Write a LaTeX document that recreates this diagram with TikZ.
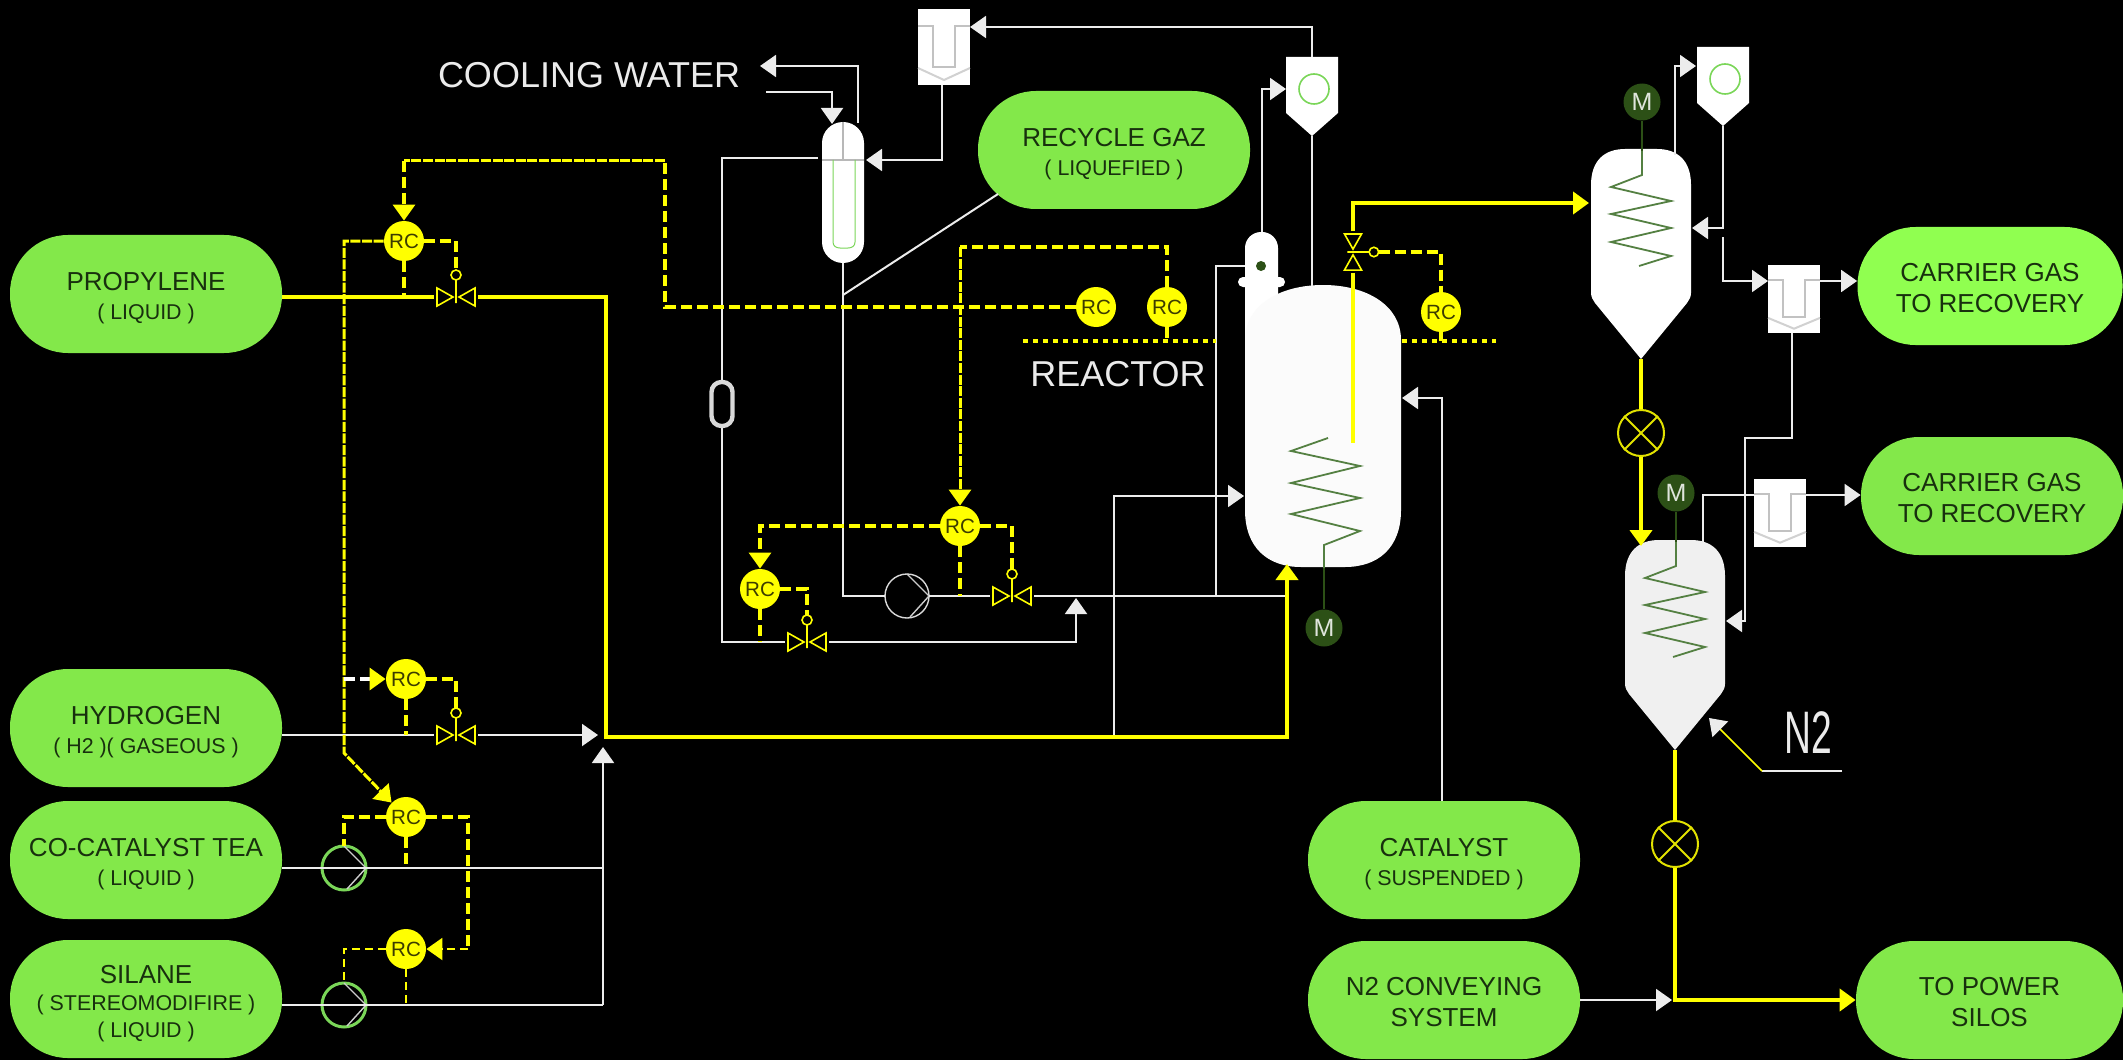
\documentclass[tikz,border=0pt]{standalone}
\usepackage{fontspec}
\setmainfont{Liberation Sans}
\usetikzlibrary{arrows.meta}
\definecolor{PillGreen}{RGB}{131,232,74}
\definecolor{BrightGreen}{RGB}{144,255,80}
\definecolor{PillText}{RGB}{24,48,14}
\definecolor{RingGreen}{RGB}{122,214,88}
\definecolor{MotorGreen}{RGB}{44,80,22}
\definecolor{CoilGreen}{RGB}{84,128,66}
\definecolor{PipeGray}{RGB}{236,236,236}
\definecolor{SignalYellow}{RGB}{255,255,0}
\definecolor{RcText}{RGB}{60,60,0}
\definecolor{RotaryYellow}{RGB}{226,226,0}
\newcommand{\subline}[1]{{\fontsize{10.7}{14}\selectfont #1}}
\newcommand{\pillstrut}{\rule{0pt}{13.3pt}}
\newcommand{\bigstrut}{\rule{0pt}{11.3pt}}
\tikzset{
  terminal/.style={fill=PillGreen,rounded corners=29pt,minimum width=136pt,minimum height=59pt,
    inner sep=0pt,align=center,text=PillText,font=\fontsize{13}{15.5}\selectfont},
  ctrlnode/.style={circle,fill=SignalYellow,minimum size=20pt,inner sep=0pt,text=RcText,font=\fontsize{10.3}{10}\selectfont},
  motornode/.style={circle,fill=MotorGreen,minimum size=18.5pt,inner sep=0pt,text=white!85!MotorGreen,font=\fontsize{12.5}{12.5}\selectfont},
  titlelabel/.style={inner sep=0pt,text=white!92!black,font=\fontsize{18}{18}\selectfont},
  pipe/.style={draw=PipeGray,line width=1pt},
  feed/.style={draw=SignalYellow,line width=2pt},
  signal/.style={draw=SignalYellow,line width=1.6pt,dash pattern=on 5.5pt off 2.5pt},
  signaltight/.style={draw=SignalYellow,line width=1.5pt,dash pattern=on 5pt off .8pt},
  signalthin/.style={draw=SignalYellow,line width=1pt,dash pattern=on 4pt off 2.5pt},
  limitline/.style={draw=SignalYellow,line width=1.8pt,dash pattern=on 2.5pt off 2.5pt},
  tipped/.style={-{Triangle[length=8pt,width=11pt]}},
  coil/.style={draw=CoilGreen,line width=.9pt},
  valveh/.pic={
    \draw[SignalYellow,line width=.8pt] (-19,-9) -- (-3,0) -- (-19,9) -- cycle
      (19,-9) -- (3,0) -- (19,9) -- cycle (0,-17) -- (0,6);
    \draw[SignalYellow,line width=.8pt] (0,-22) circle (5);
    \coordinate (-w) at (-22,0);
    \coordinate (-e) at (22,0);
    \coordinate (-top) at (0,-27);
  },
  pump/.pic={
    \path[pic actions] (0,0) circle (22);
    \draw[white!80!black,line width=.7pt] (0,-22) -- (22,0) -- (3,21);
    \coordinate (-w) at (-22,0);
    \coordinate (-e) at (22,0);
    \coordinate (-n) at (0,-22);
  },
  rotary/.pic={
    \node[circle,draw=RotaryYellow,line width=1pt,minimum size=23pt,inner sep=0pt] (-c) at (0,0) {};
    \draw[RotaryYellow,line width=1pt] (-c.45) -- (-c.225) (-c.135) -- (-c.315);
  },
  cyclone/.pic={
    \fill[white] (-26,-32) -- (26,-32) -- (26,24) -- (0,47) -- (-26,24) -- cycle;
    \draw[RingGreen,line width=.8pt] (2,0) circle (15);
    \coordinate (-w) at (-26,0);
    \coordinate (-n) at (0,-32);
    \coordinate (-s) at (0,47);
  },
  ufilter/.pic={
    \fill[white] (-26,-38) rectangle (26,38);
    \draw[white!76!black,line width=1.3pt] (-26,-21) -- (-11,-21) -- (-11,20) -- (11,20) -- (11,-21) -- (26,-21);
    \draw[white!82!black,line width=1pt] (-26,21) -- (0,33) -- (26,21);
    \coordinate (-nw) at (-26,-20);
    \coordinate (-ne) at (26,-20);
    \coordinate (-s) at (-2,38);
  },
  dryer/.pic={
    \path[pic actions] (-50,36) .. controls (-50,11) and (-36,0) .. (-16,0) -- (16,0)
      .. controls (36,0) and (50,11) .. (50,36) -- (50,144) .. controls (50,148) and (48,151) .. (46,154)
      -- (0,210) -- (-46,154) .. controls (-48,151) and (-50,148) .. (-50,144) -- cycle;
    \node[motornode] (-m) at (1,-47) {M};
    \draw[draw=MotorGreen,line width=.9pt] (-m.south) -- (1,2);
    \draw[coil] (1,2) -- (1,26) -- (-30,38) -- (30,52) -- (-30,65) -- (30,79) -- (-30,93) -- (30,107) -- (-2,117);
    \coordinate (-s) at (0,210);
  }
}
\begin{document}
\begin{tikzpicture}[x=.5pt,y=-.5pt]
  \useasboundingbox (0,0) rectangle (2123,1059);
  \fill[black] (-6,-6) rectangle (2129,1065);

  \node[terminal] (propylene) at (146,294) {\pillstrut PROPYLENE\\[-1pt]\subline{( LIQUID )}};
  \node[terminal] (hydrogen) at (146,728) {\pillstrut HYDROGEN\\[-1pt]\subline{( H2 )( GASEOUS )}};
  \node[terminal] (cocat) at (146,860) {\pillstrut CO-CATALYST TEA\\[-1pt]\subline{( LIQUID )}};
  \node[terminal] (silane) at (146,999) {\pillstrut SILANE\\[-2pt]\subline{( STEREOMODIFIRE )}\\[-2pt]\subline{( LIQUID )}};
  \node[terminal] (recycle) at (1114,150) {\pillstrut RECYCLE GAZ\\[-1pt]\subline{( LIQUEFIED )}};
  \node[terminal] (catalyst) at (1444,860) {\pillstrut CATALYST\\[-1pt]\subline{( SUSPENDED )}};
  \node[terminal] (conveying) at (1444,1000) {\bigstrut N2 CONVEYING\\SYSTEM};
  \node[terminal,fill=BrightGreen,minimum width=132.5pt] (carrierA) at (1990,286) {\bigstrut CARRIER GAS\\TO RECOVERY};
  \node[terminal,minimum width=131pt] (carrierB) at (1992,496) {\bigstrut CARRIER GAS\\TO RECOVERY};
  \node[terminal,minimum width=133.5pt] (silos) at (1989.5,1000) {\bigstrut TO POWER\\SILOS};

  \node[titlelabel] (cooling) at (589,75) {COOLING WATER};
  \node[titlelabel] (reactorlabel) at (1118,374) {REACTOR};
  \node[titlelabel,font=\fontsize{30}{30}\selectfont] (nitrogen) at (1808,733) {\scalebox{.62}[1]{N2}};

  \node[fill=white,minimum width=21pt,minimum height=70.5pt,rounded corners=10.5pt,inner sep=0pt] (condenser) at (843,192.5) {};
  \draw[white!72!black,line width=.6pt] (condenser.north) -- (843,160) (822,160) -- (864,160);
  \draw[RingGreen,line width=.5pt] (833,160) -- (833,242) .. controls (833,246) and (836,248) .. (840,248)
    -- (848,248) .. controls (852,248) and (855,246) .. (855,242) -- (855,160);
  \node[draw=white!85!black,line width=2.2pt,fill=black,minimum width=10.5pt,minimum height=22pt,rounded corners=5pt,inner sep=0pt] (sight) at (722,404) {};

  \node[fill=white,minimum width=16.5pt,minimum height=64pt,rounded corners=8pt,inner sep=0pt] (nozzle) at (1261.5,296) {};
  \node[fill=white,minimum width=23.5pt,minimum height=5pt,rounded corners=2.5pt,inner sep=0pt] (flange) at (1261.5,282) {};
  \node[circle,fill=MotorGreen,minimum size=5pt,inner sep=0pt] (nozzledot) at (1261,266) {};
  \fill[white!98.5!black] (1245,340) .. controls (1245,305) and (1280,285) .. (1323,285)
    .. controls (1366,285) and (1401,305) .. (1401,340) -- (1401,510)
    .. controls (1401,548) and (1378,567) .. (1345,567) -- (1301,567)
    .. controls (1268,567) and (1245,548) .. (1245,510) -- cycle;
  \node[motornode] (motorR) at (1324,628) {M};
  \draw[draw=MotorGreen,line width=.9pt] (motorR.north) -- (1324,568);
  \draw[coil] (1324,568) -- (1324,545) -- (1360,531) -- (1291,514) -- (1360,498) -- (1291,483) -- (1360,466) -- (1291,451) -- (1328,438);

  \pic[fill=white] (dryerA) at (1641,149) {dryer};
  \pic[fill=white!94!black] (dryerB) at (1675,540) {dryer};
  \pic (cycA) at (1312,89) {cyclone};
  \pic (cycB) at (1723,79) {cyclone};
  \pic (filtA) at (944,47) {ufilter};
  \pic[yscale=.9] (filtB) at (1794,299) {ufilter};
  \pic[yscale=.9] (filtC) at (1780,513) {ufilter};
  \pic (rvA) at (1641,433) {rotary};
  \pic (rvB) at (1675,844) {rotary};
  \pic (vProp) at (456,297) {valveh};
  \pic (vHyd) at (456,735) {valveh};
  \pic (vRec) at (1012,596) {valveh};
  \pic (vLow) at (807,642) {valveh};
  \pic[rotate=-90,scale=.95] (vReact) at (1353,252) {valveh};
  \pic[draw=white!85!black,line width=.7pt] (pumpRec) at (907,596) {pump};
  \pic[draw=RingGreen,line width=1.5pt] (pumpCo) at (344,868) {pump};
  \pic[draw=RingGreen,line width=1.5pt] (pumpSil) at (344,1005) {pump};

  \node[ctrlnode] (rcProp) at (404,241) {RC};
  \node[ctrlnode] (rcHyd) at (406,679) {RC};
  \node[ctrlnode] (rcCo) at (406,817) {RC};
  \node[ctrlnode] (rcSil) at (406,949) {RC};
  \node[ctrlnode] (rcRecA) at (1096,307) {RC};
  \node[ctrlnode] (rcRecB) at (1167,307) {RC};
  \node[ctrlnode] (rcMain) at (960,526) {RC};
  \node[ctrlnode] (rcLow) at (760,589) {RC};
  \node[ctrlnode] (rcReact) at (1441,312) {RC};

  \coordinate (mainJoint) at (606,737);
  \coordinate (reactorFoot) at (1287,564);
  \coordinate (mainBranch) at (1114,737);
  \coordinate (reactorSide) at (1244,496);
  \coordinate (reactorEast) at (1402,398);
  \coordinate (reactorTop) at (1312,286);
  \coordinate (reactorDip) at (1353,443);
  \coordinate (hydTip) at (598,735);
  \coordinate (sideBus) at (603,1005);
  \coordinate (sideTip) at (603,747);
  \coordinate (coolTip) at (760,66);
  \coordinate (coolRise) at (858,123);
  \coordinate (coolSrc) at (766,92);
  \coordinate (coolIn) at (832,124);
  \coordinate (condIn) at (866,160);
  \coordinate (condLeft) at (818,158);
  \coordinate (recycleFoot) at (998,194);
  \coordinate (condTap) at (843,295);
  \coordinate (lowTip) at (1076,598);
  \coordinate (recBranch) at (1216,596);
  \coordinate (topBus) at (665,161);
  \coordinate (loopBus) at (960,247);
  \coordinate (sigBend) at (344,753);
  \coordinate (sigTap) at (344,679);
  \coordinate (loopSil) at (468,949);
  \coordinate (limitA) at (1023,341);
  \coordinate (limitB) at (1216,341);
  \coordinate (limitC) at (1402,341);
  \coordinate (limitEnd) at (1496,341);
  \coordinate (dryerIn) at (1589,203);
  \coordinate (dryerTopA) at (1675,155);
  \coordinate (cycBIn) at (1696,66);
  \coordinate (dryerEastA) at (1692,228);
  \coordinate (gasDrop) at (1723,237);
  \coordinate (wrapBus) at (1745,438);
  \coordinate (dryerEastB) at (1726,621);
  \coordinate (dryerTopB) at (1703,542);
  \coordinate (dryerNorthB) at (1641,546);
  \coordinate (convTip) at (1672,1000);
  \coordinate (nitroEnd) at (1842,771);
  \coordinate (nitroBend) at (1762,771);
  \coordinate (nitroTip) at (1709,718);

  \draw[pipe] (hydrogen.east |- vHyd-w) -- (vHyd-w);
  \draw[pipe,tipped] (vHyd-e) -- (hydTip);
  \draw[pipe] (cocat.east |- pumpCo-w) -- (sideBus |- pumpCo-w);
  \draw[pipe] (silane.east |- sideBus) -- (sideBus);
  \draw[pipe,tipped] (sideBus) -- (sideTip);
  \draw[pipe,tipped] (coolRise) |- (coolTip);
  \draw[pipe,tipped] (coolSrc) -| (coolIn);
  \draw[pipe,tipped] (filtA-s) |- (condIn);
  \draw[pipe,tipped] (cycA-n) |- (filtA-ne);
  \draw[pipe] (condLeft) -| (sight.north);
  \draw[pipe] (sight.south) |- (vLow-w);
  \draw[pipe,tipped] (vLow-e) -| (lowTip);
  \draw[pipe] (condenser.south) |- (pumpRec-w);
  \draw[pipe] (pumpRec-e) -- (vRec-w);
  \draw[pipe] (vRec-e) -- (reactorFoot |- vRec-e);
  \draw[pipe] (recycleFoot) -- (condTap);
  \draw[pipe] (nozzle.west |- nozzledot) -| (recBranch);
  \draw[pipe,tipped] (nozzle.north) |- (cycA-w);
  \draw[pipe] (cycA-s) -- (reactorTop);
  \draw[pipe,tipped] (mainBranch) |- (reactorSide);
  \draw[pipe,tipped] ([xshift=-1pt]catalyst.north) |- (reactorEast);
  \draw[pipe,tipped] (dryerTopA) |- (cycBIn);
  \draw[pipe,tipped] (cycB-s) |- (dryerEastA);
  \draw[pipe,tipped] (gasDrop) |- (filtB-nw);
  \draw[pipe,tipped] (filtB-ne) -- (carrierA.west |- filtB-ne);
  \draw[pipe,tipped] (filtB-s) |- (wrapBus) |- (dryerEastB);
  \draw[pipe] (dryerTopB) |- (filtC-nw);
  \draw[pipe,tipped] (filtC-ne) -- (carrierB.west |- filtC-ne);
  \draw[pipe,tipped] (conveying.east) -- (convTip);
  \draw[pipe] (nitroEnd) -- (nitroBend);
  \draw[draw=SignalYellow,line width=.8pt,-{Triangle[length=8pt,width=11pt,color=PipeGray]}] (nitroBend) -- (nitroTip);

  \draw[feed] (propylene.east |- vProp-w) -- (vProp-w);
  \draw[feed,tipped] (vProp-e) -| (mainJoint) -| (reactorFoot);
  \draw[feed] (vReact-e) -- (reactorDip);
  \draw[feed,tipped] (vReact-w) |- (dryerIn);
  \draw[feed] (dryerA-s) -- (rvA-c.north);
  \draw[feed,tipped] (rvA-c.south) -- (dryerNorthB);
  \draw[feed] (dryerB-s) -- (rvB-c.north);
  \draw[feed,tipped] (rvB-c.south) |- (silos.west);

  \draw[signal] (rcRecA.west) -| (topBus);
  \draw[signaltight] (topBus) -- (topBus -| rcProp.north);
  \draw[signal,tipped] (topBus -| rcProp.north) -- (rcProp.north);
  \draw[signal] (rcProp.east) -| (vProp-top);
  \draw[signal] (rcProp.south) -- (rcProp.south |- vProp-w);
  \draw[signaltight,tipped] (rcProp.west) -| (sigBend) -- (rcCo.135);
  \draw[draw=white,line width=1.6pt,dash pattern=on 5.5pt off 2.5pt,-{Triangle[length=8pt,width=11pt,color=SignalYellow]}] (sigTap) -- (rcHyd.west);
  \draw[signal] (rcHyd.east) -| (vHyd-top);
  \draw[signal] (rcHyd.south) -- (rcHyd.south |- vHyd-w);
  \draw[signal] (rcCo.west) -| (pumpCo-n);
  \draw[signal] (rcCo.east) -| (loopSil);
  \draw[signalthin,tipped] (loopSil) -- (rcSil.east);
  \draw[signal] (rcCo.south) -- (rcCo.south |- pumpCo-w);
  \draw[signalthin] (rcSil.west) -| (pumpSil-n);
  \draw[signalthin] (rcSil.south) -- (rcSil.south |- pumpSil-w);
  \draw[signal] (rcRecB.north) |- (loopBus);
  \draw[signaltight,tipped] (loopBus) -- (rcMain.north);
  \draw[signal] (rcRecB.south) -- (rcRecB.south |- limitA);
  \draw[signal,tipped] (rcMain.west) -| (rcLow.north);
  \draw[signal] (rcMain.east) -| (vRec-top);
  \draw[signal] (rcMain.south) -- (rcMain.south |- vRec-w);
  \draw[signal] (rcLow.east) -| (vLow-top);
  \draw[signal] (rcLow.south) -- (rcLow.south |- vLow-w);
  \draw[signal] (vReact-top) -| (rcReact.north);
  \draw[signal] (rcReact.south) -- (rcReact.south |- limitC);
  \draw[limitline] (limitA) -- (limitB);
  \draw[limitline] (limitC) -- (limitEnd);
\end{tikzpicture}
\end{document}
